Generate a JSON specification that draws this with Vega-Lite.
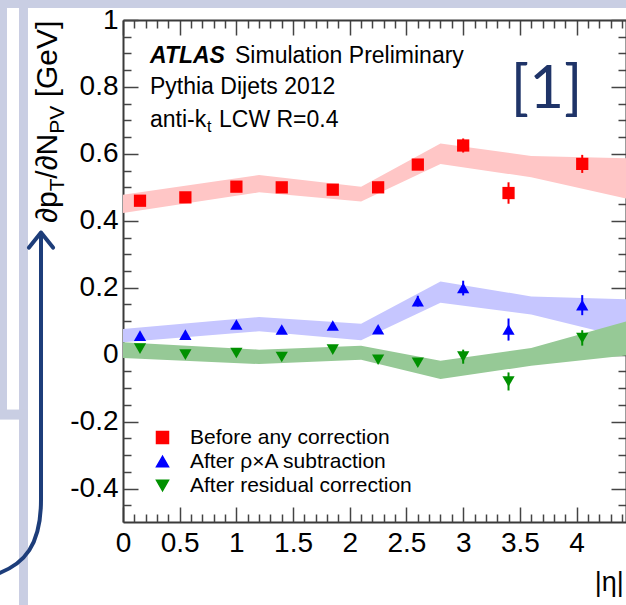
{
  "$schema": "https://vega.github.io/schema/vega-lite/v6.json",
  "width": 503,
  "height": 502,
  "autosize": {"type": "none"},
  "padding": {"left": 123, "top": 20, "right": 0, "bottom": 83},
  "background": "white",
  "config": {
    "view": {"stroke": null},
    "font": "Liberation Sans",
    "axis": {"grid": false},
    "text": {"font": "Liberation Sans"}
  },
  "datasets": {
    "pts": [
      {"series": "Before any correction", "eta": 0.15, "val": 0.46, "lo": 0.452, "hi": 0.468},
      {"series": "Before any correction", "eta": 0.55, "val": 0.47, "lo": 0.462, "hi": 0.478},
      {"series": "Before any correction", "eta": 1.0, "val": 0.502, "lo": 0.494, "hi": 0.51},
      {"series": "Before any correction", "eta": 1.4, "val": 0.5, "lo": 0.492, "hi": 0.508},
      {"series": "Before any correction", "eta": 1.85, "val": 0.493, "lo": 0.485, "hi": 0.501},
      {"series": "Before any correction", "eta": 2.25, "val": 0.5, "lo": 0.492, "hi": 0.508},
      {"series": "Before any correction", "eta": 2.6, "val": 0.568, "lo": 0.556, "hi": 0.58},
      {"series": "Before any correction", "eta": 3.0, "val": 0.625, "lo": 0.604, "hi": 0.646},
      {"series": "Before any correction", "eta": 3.4, "val": 0.483, "lo": 0.451, "hi": 0.515},
      {"series": "Before any correction", "eta": 4.05, "val": 0.57, "lo": 0.543, "hi": 0.597},
      {"series": "After ρ×A subtraction", "eta": 0.15, "val": 0.057, "lo": 0.049, "hi": 0.065},
      {"series": "After ρ×A subtraction", "eta": 0.55, "val": 0.06, "lo": 0.052, "hi": 0.068},
      {"series": "After ρ×A subtraction", "eta": 1.0, "val": 0.09, "lo": 0.082, "hi": 0.098},
      {"series": "After ρ×A subtraction", "eta": 1.4, "val": 0.075, "lo": 0.067, "hi": 0.083},
      {"series": "After ρ×A subtraction", "eta": 1.85, "val": 0.087, "lo": 0.079, "hi": 0.095},
      {"series": "After ρ×A subtraction", "eta": 2.25, "val": 0.076, "lo": 0.068, "hi": 0.084},
      {"series": "After ρ×A subtraction", "eta": 2.6, "val": 0.16, "lo": 0.144, "hi": 0.176},
      {"series": "After ρ×A subtraction", "eta": 3.0, "val": 0.199, "lo": 0.177, "hi": 0.221},
      {"series": "After ρ×A subtraction", "eta": 3.4, "val": 0.075, "lo": 0.042, "hi": 0.108},
      {"series": "After ρ×A subtraction", "eta": 4.05, "val": 0.148, "lo": 0.118, "hi": 0.178},
      {"series": "After residual correction", "eta": 0.15, "val": 0.018, "lo": 0.01, "hi": 0.026},
      {"series": "After residual correction", "eta": 0.55, "val": 0.0, "lo": -0.008, "hi": 0.008},
      {"series": "After residual correction", "eta": 1.0, "val": 0.005, "lo": -0.003, "hi": 0.013},
      {"series": "After residual correction", "eta": 1.4, "val": -0.007, "lo": -0.015, "hi": 0.001},
      {"series": "After residual correction", "eta": 1.85, "val": 0.015, "lo": 0.007, "hi": 0.023},
      {"series": "After residual correction", "eta": 2.25, "val": -0.015, "lo": -0.023, "hi": -0.007},
      {"series": "After residual correction", "eta": 2.6, "val": -0.024, "lo": -0.034, "hi": -0.014},
      {"series": "After residual correction", "eta": 3.0, "val": -0.006, "lo": -0.027, "hi": 0.015},
      {"series": "After residual correction", "eta": 3.4, "val": -0.08, "lo": -0.107, "hi": -0.053},
      {"series": "After residual correction", "eta": 4.05, "val": 0.05, "lo": 0.027, "hi": 0.073}
    ],
    "bands": [
      {"series": "Before any correction", "eta": 0, "lo": 0.423, "hi": 0.478},
      {"series": "Before any correction", "eta": 1.2, "lo": 0.485, "hi": 0.537},
      {"series": "Before any correction", "eta": 2.1, "lo": 0.458, "hi": 0.502},
      {"series": "Before any correction", "eta": 2.8, "lo": 0.57, "hi": 0.631},
      {"series": "Before any correction", "eta": 3.6, "lo": 0.53, "hi": 0.594},
      {"series": "Before any correction", "eta": 4.5, "lo": 0.462, "hi": 0.586},
      {"series": "After ρ×A subtraction", "eta": 0, "lo": 0.037, "hi": 0.077},
      {"series": "After ρ×A subtraction", "eta": 1.2, "lo": 0.07, "hi": 0.1125},
      {"series": "After ρ×A subtraction", "eta": 2.1, "lo": 0.043, "hi": 0.0925},
      {"series": "After ρ×A subtraction", "eta": 2.8, "lo": 0.155, "hi": 0.219},
      {"series": "After ρ×A subtraction", "eta": 3.6, "lo": 0.12, "hi": 0.174},
      {"series": "After ρ×A subtraction", "eta": 4.5, "lo": 0.045, "hi": 0.165},
      {"series": "After residual correction", "eta": 0, "lo": -0.01, "hi": 0.037},
      {"series": "After residual correction", "eta": 1.2, "lo": -0.028, "hi": 0.015},
      {"series": "After residual correction", "eta": 2.1, "lo": -0.015, "hi": 0.027},
      {"series": "After residual correction", "eta": 2.8, "lo": -0.073, "hi": -0.018},
      {"series": "After residual correction", "eta": 3.6, "lo": -0.033, "hi": 0.02},
      {"series": "After residual correction", "eta": 4.5, "lo": 0.0, "hi": 0.105}
    ]
  },
  "resolve": {"axis": {"x": "independent", "y": "independent"}},
  "layer": [
    {
      "data": {"values": [{}]},
      "mark": {"type": "rect", "color": "#c9cee3", "clip": false},
      "encoding": {
        "x": {"datum": -1.09, "type": "quantitative", "scale": {"domain": [0, 4.436], "nice": false, "zero": false}, "axis": null},
        "x2": {"datum": 4.5},
        "y": {"datum": 1.06, "type": "quantitative", "scale": {"domain": [-0.5, 1], "nice": false, "zero": false}, "axis": null},
        "y2": {"datum": 1.036}
      }
    },
    {
      "data": {"values": [{}]},
      "mark": {"type": "rect", "color": "#c9cee3", "clip": false},
      "encoding": {
        "x": {"datum": -0.917, "type": "quantitative", "scale": {"domain": [0, 4.436], "nice": false, "zero": false}, "axis": null},
        "x2": {"datum": -0.838},
        "y": {"datum": 1.06, "type": "quantitative", "scale": {"domain": [-0.5, 1], "nice": false, "zero": false}, "axis": null},
        "y2": {"datum": -0.75}
      }
    },
    {
      "data": {"values": [{}]},
      "mark": {"type": "rect", "color": "#c9cee3", "clip": false},
      "encoding": {
        "x": {"datum": -1.09, "type": "quantitative", "scale": {"domain": [0, 4.436], "nice": false, "zero": false}, "axis": null},
        "x2": {"datum": -1.023},
        "y": {"datum": 1.06, "type": "quantitative", "scale": {"domain": [-0.5, 1], "nice": false, "zero": false}, "axis": null},
        "y2": {"datum": -0.179}
      }
    },
    {
      "data": {"values": [{}]},
      "mark": {"type": "rect", "color": "#c9cee3", "clip": false},
      "encoding": {
        "x": {"datum": -1.09, "type": "quantitative", "scale": {"domain": [0, 4.436], "nice": false, "zero": false}, "axis": null},
        "x2": {"datum": -0.838},
        "y": {"datum": -0.164, "type": "quantitative", "scale": {"domain": [-0.5, 1], "nice": false, "zero": false}, "axis": null},
        "y2": {"datum": -0.194}
      }
    },
    {
      "data": {"name": "bands"},
      "transform": [{"filter": "datum.series === 'Before any correction'"}],
      "mark": {"type": "area", "clip": true, "opacity": 1, "fill": "#ffc6c6"},
      "encoding": {
        "x": {"field": "eta", "type": "quantitative", "scale": {"domain": [0, 4.436], "nice": false, "zero": false},
          "axis": {"orient": "bottom", "values": [0, 0.5, 1, 1.5, 2, 2.5, 3, 3.5, 4], "ticks": false, "domain": true, "domainColor": "#3a3a3a", "domainWidth": 2, "labels": true, "labelFontSize": 28, "labelColor": "#000", "labelPadding": 7, "labelFlush": false, "labelOverlap": false, "labelExpr": "'' + datum.value", "title": null, "grid": false}},
        "y": {"field": "hi", "type": "quantitative", "scale": {"domain": [-0.5, 1], "nice": false, "zero": false},
          "axis": {"orient": "left", "values": [-0.4, -0.2, 0, 0.2, 0.4, 0.6, 0.8, 1], "ticks": false, "domain": true, "domainColor": "#3a3a3a", "domainWidth": 2, "labels": true, "labelFontSize": 28, "labelColor": "#000", "labelPadding": 5, "labelFlush": false, "labelOverlap": false, "labelExpr": "'' + datum.value", "title": null, "grid": false}},
        "y2": {"field": "lo"}
      }
    },
    {
      "data": {"name": "bands"},
      "transform": [{"filter": "datum.series === 'After ρ×A subtraction'"}],
      "mark": {"type": "area", "clip": true, "opacity": 1, "fill": "#c6c6ff"},
      "encoding": {
        "x": {"field": "eta", "type": "quantitative", "scale": {"domain": [0, 4.436], "nice": false, "zero": false},
          "axis": {"orient": "bottom", "values": [0, 0.5, 1, 1.5, 2, 2.5, 3, 3.5, 4], "ticks": true, "tickSize": -15, "tickColor": "#444", "tickWidth": 1.5, "labels": false, "domain": false, "title": null, "grid": false}},
        "y": {"field": "hi", "type": "quantitative", "scale": {"domain": [-0.5, 1], "nice": false, "zero": false},
          "axis": {"orient": "left", "values": [-0.4, -0.2, 0, 0.2, 0.4, 0.6, 0.8, 1], "ticks": true, "tickSize": -15, "tickColor": "#444", "tickWidth": 1.5, "labels": false, "domain": false, "title": null, "grid": false}},
        "y2": {"field": "lo"}
      }
    },
    {
      "data": {"name": "bands"},
      "transform": [{"filter": "datum.series === 'After residual correction'"}],
      "mark": {"type": "area", "clip": true, "opacity": 1, "fill": "#96c996"},
      "encoding": {
        "x": {"field": "eta", "type": "quantitative", "scale": {"domain": [0, 4.436], "nice": false, "zero": false},
          "axis": {"orient": "bottom", "values": [0.1, 0.2, 0.3, 0.4, 0.6, 0.7, 0.8, 0.9, 1.1, 1.2, 1.3, 1.4, 1.6, 1.7, 1.8, 1.9, 2.1, 2.2, 2.3, 2.4, 2.6, 2.7, 2.8, 2.9, 3.1, 3.2, 3.3, 3.4, 3.6, 3.7, 3.8, 3.9, 4.1, 4.2, 4.3, 4.4], "ticks": true, "tickSize": -8, "tickColor": "#444", "tickWidth": 1.5, "labels": false, "domain": false, "title": null, "grid": false}},
        "y": {"field": "hi", "type": "quantitative", "scale": {"domain": [-0.5, 1], "nice": false, "zero": false},
          "axis": {"orient": "left", "values": [-0.45, -0.35, -0.3, -0.25, -0.15, -0.1, -0.05, 0.05, 0.1, 0.15, 0.25, 0.3, 0.35, 0.45, 0.5, 0.55, 0.65, 0.7, 0.75, 0.85, 0.9, 0.95], "ticks": true, "tickSize": -8, "tickColor": "#444", "tickWidth": 1.5, "labels": false, "domain": false, "title": null, "grid": false}},
        "y2": {"field": "lo"}
      }
    },
    {
      "data": {"name": "pts"},
      "mark": {"type": "point", "filled": true, "opacity": 1, "size": 150, "strokeWidth": 0},
      "encoding": {
        "x": {"field": "eta", "type": "quantitative", "scale": {"domain": [0, 4.436], "nice": false, "zero": false},
          "axis": {"orient": "top", "values": [0.1, 0.2, 0.3, 0.4, 0.6, 0.7, 0.8, 0.9, 1.1, 1.2, 1.3, 1.4, 1.6, 1.7, 1.8, 1.9, 2.1, 2.2, 2.3, 2.4, 2.6, 2.7, 2.8, 2.9, 3.1, 3.2, 3.3, 3.4, 3.6, 3.7, 3.8, 3.9, 4.1, 4.2, 4.3, 4.4], "ticks": true, "tickSize": -8, "tickColor": "#444", "tickWidth": 1.5, "labels": false, "domain": false, "title": null, "grid": false}},
        "y": {"field": "val", "type": "quantitative", "scale": {"domain": [-0.5, 1], "nice": false, "zero": false},
          "axis": {"orient": "right", "values": [-0.45, -0.35, -0.3, -0.25, -0.15, -0.1, -0.05, 0.05, 0.1, 0.15, 0.25, 0.3, 0.35, 0.45, 0.5, 0.55, 0.65, 0.7, 0.75, 0.85, 0.9, 0.95], "ticks": true, "tickSize": -8, "tickColor": "#444", "tickWidth": 1.5, "labels": false, "domain": false, "title": null, "grid": false}},
        "shape": {"field": "series", "type": "nominal", "scale": {"domain": ["Before any correction", "After ρ×A subtraction", "After residual correction"], "range": ["square", "triangle-up", "triangle-down"]}},
        "color": {"field": "series", "type": "nominal", "scale": {"domain": ["Before any correction", "After ρ×A subtraction", "After residual correction"], "range": ["#ff0000", "#0000ff", "#009100"]},
          "legend": {"orient": "none", "legendX": 29, "legendY": 407, "title": null, "padding": 0, "labelFontSize": 21, "labelFont": "Liberation Sans", "labelColor": "#000", "labelOffset": 17, "rowPadding": 2, "labelLimit": 400, "symbolSize": 144,
            "encode": {"symbols": {
              "shape": {"value": {"expr": "datum.value === 'Before any correction' ? 'M-3,-0.15H3V0.15H-3ZM-0.85,-0.85H0.85V0.85H-0.85Z' : datum.value === 'After ρ×A subtraction' ? 'M-3,-0.15H3V0.15H-3ZM0,-1L1,0.8H-1Z' : 'M-3,-0.15H3V0.15H-3ZM0,1L1,-0.8H-1Z'"}},
              "strokeWidth": {"value": 0},
              "opacity": {"value": 1}}}}}
      }
    },
    {
      "data": {"name": "pts"},
      "mark": {"type": "rule", "strokeWidth": 2},
      "encoding": {
        "x": {"field": "eta", "type": "quantitative", "scale": {"domain": [0, 4.436], "nice": false, "zero": false},
          "axis": {"orient": "top", "values": [0, 0.5, 1, 1.5, 2, 2.5, 3, 3.5, 4], "ticks": true, "tickSize": -15, "tickColor": "#444", "tickWidth": 1.5, "labels": false, "domain": true, "domainColor": "#3a3a3a", "domainWidth": 2, "title": null, "grid": false}},
        "y": {"field": "lo", "type": "quantitative", "scale": {"domain": [-0.5, 1], "nice": false, "zero": false},
          "axis": {"orient": "right", "values": [-0.4, -0.2, 0, 0.2, 0.4, 0.6, 0.8, 1], "ticks": true, "tickSize": -15, "tickColor": "#444", "tickWidth": 1.5, "labels": false, "domain": true, "domainColor": "#3a3a3a", "domainWidth": 2, "title": null, "grid": false}},
        "y2": {"field": "hi"},
        "color": {"field": "series", "type": "nominal"}
      }
    },
    {
      "data": {"values": [{}]},
      "mark": {"type": "text", "text": "ATLAS", "fontSize": 23, "fontWeight": "bold", "fontStyle": "italic", "align": "left", "baseline": "alphabetic", "color": "#000"},
      "encoding": {"x": {"datum": 0.238, "type": "quantitative", "scale": {"domain": [0, 4.436], "nice": false, "zero": false}, "axis": null}, "y": {"datum": 0.8716, "type": "quantitative", "scale": {"domain": [-0.5, 1], "nice": false, "zero": false}, "axis": null}}
    },
    {
      "data": {"values": [{}]},
      "mark": {"type": "text", "text": "Simulation Preliminary", "fontSize": 23, "align": "left", "baseline": "alphabetic", "color": "#000"},
      "encoding": {"x": {"datum": 0.988, "type": "quantitative", "scale": {"domain": [0, 4.436], "nice": false, "zero": false}, "axis": null}, "y": {"datum": 0.8716, "type": "quantitative", "scale": {"domain": [-0.5, 1], "nice": false, "zero": false}, "axis": null}}
    },
    {
      "data": {"values": [{}]},
      "mark": {"type": "text", "text": "Pythia Dijets 2012", "fontSize": 23, "align": "left", "baseline": "alphabetic", "color": "#000"},
      "encoding": {"x": {"datum": 0.238, "type": "quantitative", "scale": {"domain": [0, 4.436], "nice": false, "zero": false}, "axis": null}, "y": {"datum": 0.779, "type": "quantitative", "scale": {"domain": [-0.5, 1], "nice": false, "zero": false}, "axis": null}}
    },
    {
      "data": {"values": [{}]},
      "mark": {"type": "text", "text": "anti-k", "fontSize": 23, "align": "left", "baseline": "alphabetic", "color": "#000"},
      "encoding": {"x": {"datum": 0.238, "type": "quantitative", "scale": {"domain": [0, 4.436], "nice": false, "zero": false}, "axis": null}, "y": {"datum": 0.6806, "type": "quantitative", "scale": {"domain": [-0.5, 1], "nice": false, "zero": false}, "axis": null}}
    },
    {
      "data": {"values": [{}]},
      "mark": {"type": "text", "text": "t", "fontSize": 16, "align": "left", "baseline": "alphabetic", "color": "#000"},
      "encoding": {"x": {"datum": 0.741, "type": "quantitative", "scale": {"domain": [0, 4.436], "nice": false, "zero": false}, "axis": null}, "y": {"datum": 0.666, "type": "quantitative", "scale": {"domain": [-0.5, 1], "nice": false, "zero": false}, "axis": null}}
    },
    {
      "data": {"values": [{}]},
      "mark": {"type": "text", "text": "LCW R=0.4", "fontSize": 23, "align": "left", "baseline": "alphabetic", "color": "#000"},
      "encoding": {"x": {"datum": 0.8466, "type": "quantitative", "scale": {"domain": [0, 4.436], "nice": false, "zero": false}, "axis": null}, "y": {"datum": 0.6806, "type": "quantitative", "scale": {"domain": [-0.5, 1], "nice": false, "zero": false}, "axis": null}}
    },
    {
      "data": {"values": [{}]},
      "mark": {"type": "text", "text": "[1]", "font": "Lato", "fontSize": 60, "align": "left", "baseline": "alphabetic", "color": "#1f3468"},
      "encoding": {"x": {"datum": 3.42, "type": "quantitative", "scale": {"domain": [0, 4.436], "nice": false, "zero": false}, "axis": null}, "y": {"datum": 0.737, "type": "quantitative", "scale": {"domain": [-0.5, 1], "nice": false, "zero": false}, "axis": null}}
    },
    {
      "data": {"values": [{}]},
      "mark": {"type": "text", "text": "∂p", "fontSize": 30, "angle": 270, "align": "left", "baseline": "alphabetic", "color": "#000"},
      "encoding": {"x": {"datum": -0.582, "type": "quantitative", "scale": {"domain": [0, 4.436], "nice": false, "zero": false}, "axis": null}, "y": {"datum": 0.394, "type": "quantitative", "scale": {"domain": [-0.5, 1], "nice": false, "zero": false}, "axis": null}}
    },
    {
      "data": {"values": [{}]},
      "mark": {"type": "text", "text": "T", "fontSize": 21, "angle": 270, "align": "left", "baseline": "alphabetic", "color": "#000"},
      "encoding": {"x": {"datum": -0.52, "type": "quantitative", "scale": {"domain": [0, 4.436], "nice": false, "zero": false}, "axis": null}, "y": {"datum": 0.488, "type": "quantitative", "scale": {"domain": [-0.5, 1], "nice": false, "zero": false}, "axis": null}}
    },
    {
      "data": {"values": [{}]},
      "mark": {"type": "text", "text": "/∂N", "fontSize": 30, "angle": 270, "align": "left", "baseline": "alphabetic", "color": "#000"},
      "encoding": {"x": {"datum": -0.582, "type": "quantitative", "scale": {"domain": [0, 4.436], "nice": false, "zero": false}, "axis": null}, "y": {"datum": 0.526, "type": "quantitative", "scale": {"domain": [-0.5, 1], "nice": false, "zero": false}, "axis": null}}
    },
    {
      "data": {"values": [{}]},
      "mark": {"type": "text", "text": "PV", "fontSize": 21, "angle": 270, "align": "left", "baseline": "alphabetic", "color": "#000"},
      "encoding": {"x": {"datum": -0.52, "type": "quantitative", "scale": {"domain": [0, 4.436], "nice": false, "zero": false}, "axis": null}, "y": {"datum": 0.66, "type": "quantitative", "scale": {"domain": [-0.5, 1], "nice": false, "zero": false}, "axis": null}}
    },
    {
      "data": {"values": [{}]},
      "mark": {"type": "text", "text": "[GeV]", "fontSize": 30, "angle": 270, "align": "left", "baseline": "alphabetic", "color": "#000"},
      "encoding": {"x": {"datum": -0.582, "type": "quantitative", "scale": {"domain": [0, 4.436], "nice": false, "zero": false}, "axis": null}, "y": {"datum": 0.769, "type": "quantitative", "scale": {"domain": [-0.5, 1], "nice": false, "zero": false}, "axis": null}}
    },
    {
      "data": {"values": [{}]},
      "mark": {"type": "text", "text": "|η|", "fontSize": 27, "align": "left", "baseline": "alphabetic", "color": "#000"},
      "encoding": {"x": {"datum": 4.16, "type": "quantitative", "scale": {"domain": [0, 4.436], "nice": false, "zero": false}, "axis": null}, "y": {"datum": -0.7075, "type": "quantitative", "scale": {"domain": [-0.5, 1], "nice": false, "zero": false}, "axis": null}}
    },
    {
      "data": {"values": [{}]},
      "mark": {"type": "point", "shape": "M0,-0.835L0,0.5C0,0.725,-0.08,0.825,-0.23,0.875M-0.06,-0.76L0,-0.835L0.06,-0.76", "size": 160000, "filled": false, "stroke": "#1d3d7a", "strokeWidth": 4, "opacity": 1, "strokeCap": "round", "strokeJoin": "round"},
      "encoding": {"x": {"datum": -0.7231, "type": "quantitative", "scale": {"domain": [0, 4.436], "nice": false, "zero": false}, "axis": null}, "y": {"datum": -0.1343, "type": "quantitative", "scale": {"domain": [-0.5, 1], "nice": false, "zero": false}, "axis": null}}
    }
  ]
}
